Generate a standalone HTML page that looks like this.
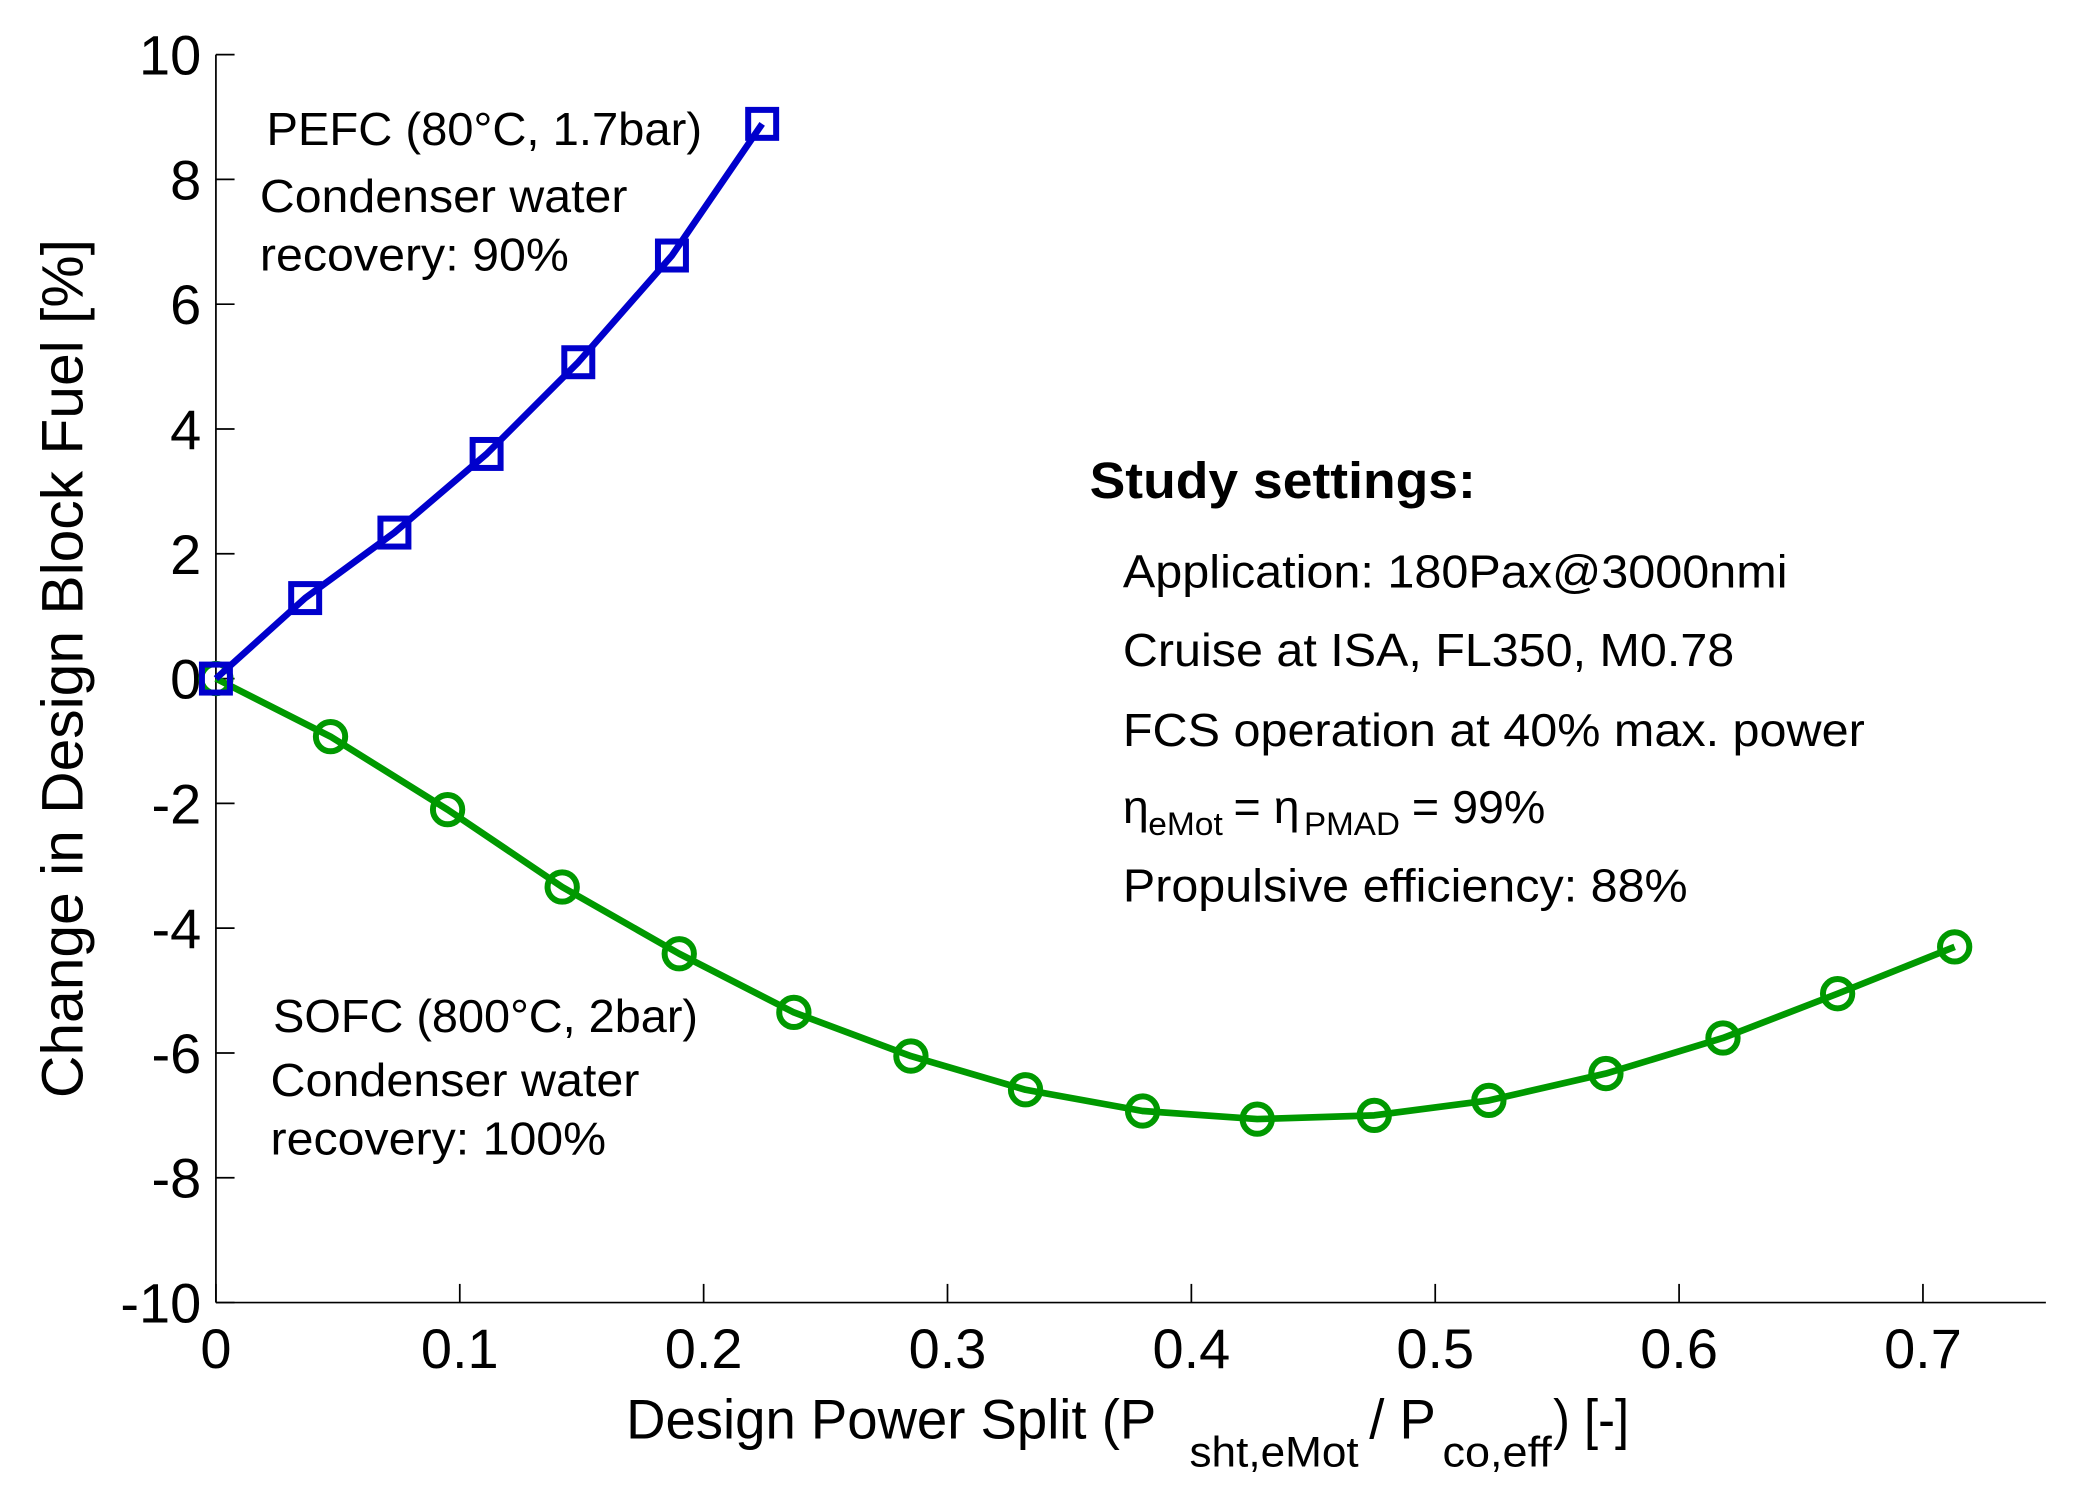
<!DOCTYPE html>
<html><head><meta charset="utf-8"><style>
html,body{margin:0;padding:0;background:#fff;}
svg{display:block;font-family:"Liberation Sans",Arial,sans-serif;}
</style></head><body>
<svg id="chart" width="2078" height="1501" viewBox="0 0 1560 1127" xmlns="http://www.w3.org/2000/svg">
<g id="axes"></g>
<g id="series"></g>
<g font-size="35" fill="#000">
<text x="200" y="109" textLength="327" lengthAdjust="spacingAndGlyphs">PEFC (80°C, 1.7bar)</text>
<text x="195" y="159" textLength="276" lengthAdjust="spacingAndGlyphs">Condenser water</text>
<text x="195" y="203" textLength="232" lengthAdjust="spacingAndGlyphs">recovery: 90%</text>
<text x="205" y="775" textLength="319" lengthAdjust="spacingAndGlyphs">SOFC (800°C, 2bar)</text>
<text x="203" y="823" textLength="277" lengthAdjust="spacingAndGlyphs">Condenser water</text>
<text x="203" y="867" textLength="252" lengthAdjust="spacingAndGlyphs">recovery: 100%</text>
<text x="818" y="374" font-size="38" font-weight="bold" textLength="290" lengthAdjust="spacingAndGlyphs">Study settings:</text>
<text x="843" y="441" textLength="499" lengthAdjust="spacingAndGlyphs">Application: 180Pax@3000nmi</text>
<text x="843" y="500" textLength="459" lengthAdjust="spacingAndGlyphs">Cruise at ISA, FL350, M0.78</text>
<text x="843" y="560" textLength="557" lengthAdjust="spacingAndGlyphs">FCS operation at 40% max. power</text>
<g>
<text x="843" y="618">η</text>
<text x="862" y="627" font-size="24" textLength="56" lengthAdjust="spacingAndGlyphs">eMot</text>
<text x="926" y="618">= η</text>
<text x="979" y="627" font-size="24" textLength="72" lengthAdjust="spacingAndGlyphs">PMAD</text>
<text x="1060" y="618">=  99%</text>
</g>
<text x="843" y="677" textLength="424" lengthAdjust="spacingAndGlyphs">Propulsive efficiency: 88%</text>
</g>
<g>
<text x="0" y="0" font-size="44" text-anchor="middle" textLength="645" lengthAdjust="spacingAndGlyphs" transform="translate(62,502) rotate(-90)">Change in Design Block Fuel [%]</text>
</g>
<g font-size="42">
<text x="470" y="1080" textLength="398" lengthAdjust="spacingAndGlyphs">Design Power Split (P</text>
<text x="893" y="1101" font-size="32" textLength="127" lengthAdjust="spacingAndGlyphs">sht,eMot</text>
<text x="1028" y="1080" textLength="50" lengthAdjust="spacingAndGlyphs">/ P</text>
<text x="1083" y="1101" font-size="32" textLength="82" lengthAdjust="spacingAndGlyphs">co,eff</text>
<text x="1166" y="1080" textLength="57" lengthAdjust="spacingAndGlyphs">) [-]</text>
</g>
<script>
const xTicks=[0,0.1,0.2,0.3,0.4,0.5,0.6,0.7];
const xTickLabels=["0","0.1","0.2","0.3","0.4","0.5","0.6","0.7"];
const yTicks=[-10,-8,-6,-4,-2,0,2,4,6,8,10];
const yTickLabels=["-10","-8","-6","-4","-2","0","2","4","6","8","10"];
const pefcX=[0,0.0366,0.0732,0.111,0.1486,0.187,0.224];
const pefcY=[0,1.29,2.34,3.6,5.07,6.78,8.89];
const sofcX=[0,0.047,0.095,0.142,0.19,0.237,0.285,0.332,0.38,0.427,0.475,0.522,0.57,0.618,0.665,0.713];
const sofcY=[0,-0.93,-2.1,-3.34,-4.41,-5.35,-6.05,-6.59,-6.93,-7.06,-7.0,-6.76,-6.33,-5.76,-5.05,-4.3];
const NS="http://www.w3.org/2000/svg";
const X0=162,X1=1536,Y0=978,Y1=41;
function sx(v){return X0+v*1831;}
function sy(v){return Y0-(v+10)/20*(Y0-Y1);}
function mk(tag,attrs,parent){const e=document.createElementNS(NS,tag);for(const k in attrs)e.setAttribute(k,attrs[k]);parent.appendChild(e);return e;}
const axes=document.getElementById('axes');
let l=mk('line',{x1:X0,y1:Y1,x2:X0,y2:Y0,stroke:'#000','stroke-width':1.3},axes);


l=mk('line',{x1:X0,y1:Y0,x2:X1,y2:Y0,stroke:'#000','stroke-width':1.3},axes);


xTicks.forEach((t,i)=>{
  const tk=mk('line',{x1:sx(t),y1:Y0,x2:sx(t),y2:Y0-14,stroke:'#000','stroke-width':1.3},axes);
  
  
  const tx=mk('text',{x:sx(t),y:1027,'font-size':42,'text-anchor':'middle'},axes);
  tx.textContent=xTickLabels[i];
  
  
});
yTicks.forEach((t,i)=>{
  const tk=mk('line',{x1:X0,y1:sy(t),x2:X0+14,y2:sy(t),stroke:'#000','stroke-width':1.3},axes);
  
  
  const tx=mk('text',{x:151,y:sy(t)+15,'font-size':42,'text-anchor':'end'},axes);
  tx.textContent=yTickLabels[i];
  
  
});
const ser=document.getElementById('series');
function drawLine(xs,ys,color,name){
  const pts=xs.map((x,i)=>sx(x)+','+sy(ys[i])).join(' ');
  const p=mk('polyline',{points:pts,fill:'none',stroke:color,'stroke-width':5,'stroke-linejoin':'round'},ser);
  
  
}
drawLine(sofcX,sofcY,'#009900','sofc-line');
sofcX.forEach((x,i)=>{
  const c=mk('circle',{cx:sx(x),cy:sy(sofcY[i]),r:11,fill:'none',stroke:'#009900','stroke-width':4.5},ser);
  
  
});
drawLine(pefcX,pefcY,'#0000cc','pefc-line');
pefcX.forEach((x,i)=>{
  const r=mk('rect',{x:sx(x)-10.5,y:sy(pefcY[i])-10.5,width:21,height:21,fill:'none',stroke:'#0000cc','stroke-width':4.5},ser);
  
  
});
</script>
</svg>
</body></html>
